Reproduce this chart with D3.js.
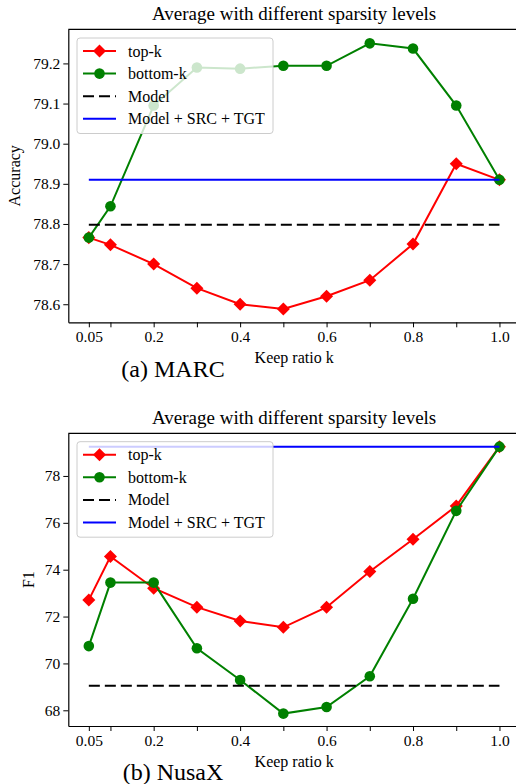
<!DOCTYPE html>
<html><head><meta charset="utf-8">
<script src="https://cdn.jsdelivr.net/npm/d3@7"></script>
<style>
body{margin:0;background:#fff;}
svg text{font-family:"Liberation Serif","Times New Roman",serif;fill:#000;}
</style></head>
<body><svg id="c" width="516" height="784"></svg>
<script>
const keepRatios = [0.05,0.1,0.2,0.3,0.4,0.5,0.6,0.7,0.8,0.9,1.0];
const xTickValues = [0.05,0.1,0.2,0.3,0.4,0.5,0.6,0.7,0.8,0.9,1.0];
const xTickLabels = ["0.05","","0.2","","0.4","","0.6","","0.8","","1.0"];

const marcTopK    = [78.766,78.748,78.700,78.640,78.600,78.588,78.620,78.660,78.750,78.950,78.910];
const marcBottomK = [78.766,78.844,79.095,79.190,79.187,79.194,79.194,79.250,79.237,79.095,78.910];
const marcModel = 78.798;
const marcFull  = 78.910;
const marcYTicks = [78.6,78.7,78.8,78.9,79.0,79.1,79.2];

const nusaTopK    = [72.71,74.56,73.21,72.40,71.81,71.54,72.40,73.92,75.30,76.72,79.25];
const nusaBottomK = [70.74,73.45,73.45,70.65,69.29,67.86,68.14,69.45,72.76,76.51,79.25];
const nusaModel = 69.05;
const nusaFull  = 79.25;
const nusaYTicks = [68,70,72,74,76,78];

const svg = d3.select("#c");
const xLeft = 68.3, xRight = 520;

function panel(o){
  const g = svg.append("g");
  const x = d3.scaleLinear().domain([0.0025,1.0475]).range([xLeft,xRight]);
  const y = d3.scaleLinear().domain(o.ydom).range([o.bottom,o.top]);

  // title
  g.append("text").attr("x",(xLeft+xRight)/2).attr("y",o.top-9)
    .attr("text-anchor","middle").attr("font-size","19px").text("Average with different sparsity levels");

  // axes
  const xa = g.append("g").attr("transform",`translate(0,${o.bottom})`)
    .call(d3.axisBottom(x).tickValues(xTickValues).tickFormat((d,i)=>xTickLabels[i]).tickSize(5).tickPadding(4).tickSizeOuter(0));
  const ya = g.append("g").attr("transform",`translate(${xLeft},0)`)
    .call(d3.axisLeft(y).tickValues(o.yticks).tickFormat(o.fmt).tickSize(5).tickPadding(3).tickSizeOuter(0));
  [xa,ya].forEach(a=>{
    a.selectAll("text").attr("font-size","15.5px").style("font-family","'Liberation Serif',serif").attr("fill","#000");
    a.selectAll("line").attr("stroke","#000").attr("stroke-width",1);
    a.select(".domain").attr("stroke","#000").attr("stroke-width",1.2);
  });
  // top spine
  g.append("line").attr("x1",xLeft).attr("x2",xRight).attr("y1",o.top).attr("y2",o.top)
    .attr("stroke","#000").attr("stroke-width",1.2);

  // labels
  g.append("text").attr("x",(xLeft+xRight)/2).attr("y",o.bottom+41)
    .attr("text-anchor","middle").attr("font-size","16px").text("Keep ratio k");
  g.append("text").attr("transform",`translate(${o.ylabX},${(o.top+o.bottom)/2}) rotate(-90)`)
    .attr("text-anchor","middle").attr("font-size","16px").text(o.ylabel);
  g.append("text").attr("x",173).attr("y",o.capY)
    .attr("text-anchor","middle").attr("font-size","24px").text(o.caption);

  const line = d3.line().x((d,i)=>x(keepRatios[i])).y(d=>y(d));
  // top-k
  g.append("path").datum(o.topk).attr("d",line).attr("fill","none").attr("stroke","#ff0000").attr("stroke-width",2);
  g.selectAll(".dia").data(o.topk).enter().append("path")
    .attr("d",d3.symbol().type(d3.symbolSquare).size(85))
    .attr("transform",(d,i)=>`translate(${x(keepRatios[i])},${y(d)}) rotate(45)`)
    .attr("fill","#ff0000");
  // bottom-k
  g.append("path").datum(o.botk).attr("d",line).attr("fill","none").attr("stroke","#008000").attr("stroke-width",2);
  g.selectAll(".cir").data(o.botk).enter().append("circle")
    .attr("cx",(d,i)=>x(keepRatios[i])).attr("cy",d=>y(d)).attr("r",5.3).attr("fill","#008000");
  // model
  g.append("line").attr("x1",x(0.05)).attr("x2",x(1.0)).attr("y1",y(o.model)).attr("y2",y(o.model))
    .attr("stroke","#000").attr("stroke-width",2).attr("stroke-dasharray","11,5");
  g.append("line").attr("x1",x(0.05)).attr("x2",x(1.0)).attr("y1",y(o.full)).attr("y2",y(o.full))
    .attr("stroke","#0000ff").attr("stroke-width",2);

  // legend
  const lg = g.append("g").attr("transform",`translate(77,${o.legTop})`);
  lg.append("rect").attr("x",0).attr("y",0).attr("width",196).attr("height",95.5).attr("rx",3)
    .attr("fill","#fff").attr("fill-opacity",0.8).attr("stroke","#cccccc").attr("stroke-width",1);
  const rows = [
    {t:"top-k",c:"#ff0000",m:"D"},
    {t:"bottom-k",c:"#008000",m:"o"},
    {t:"Model",c:"#000",m:"dash"},
    {t:"Model + SRC + TGT",c:"#0000ff",m:""}
  ];
  rows.forEach((r,i)=>{
    const yy = 13 + i*22.6;
    const l = lg.append("line").attr("x1",6).attr("x2",39).attr("y1",yy).attr("y2",yy)
      .attr("stroke",r.c).attr("stroke-width",2);
    if(r.m==="dash") l.attr("stroke-dasharray","11,5");
    if(r.m==="D") lg.append("path").attr("d",d3.symbol().type(d3.symbolSquare).size(85))
      .attr("transform",`translate(22.5,${yy}) rotate(45)`).attr("fill",r.c);
    if(r.m==="o") lg.append("circle").attr("cx",22.5).attr("cy",yy).attr("r",5.3).attr("fill",r.c);
    lg.append("text").attr("x",51).attr("y",yy+5.5).attr("font-size","16px").text(r.t);
  });
}

panel({top:29.3,bottom:322.3,ydom:[78.555,79.285],yticks:marcYTicks,fmt:d3.format(".1f"),
  topk:marcTopK,botk:marcBottomK,model:marcModel,full:marcFull,
  ylabel:"Accuracy",ylabX:20,caption:"(a) MARC",capY:377,legTop:38});
panel({top:433.3,bottom:726,ydom:[67.33,79.82],yticks:nusaYTicks,fmt:d3.format("d"),
  topk:nusaTopK,botk:nusaBottomK,model:nusaModel,full:nusaFull,
  ylabel:"F1",ylabX:34,caption:"(b) NusaX",capY:780,legTop:441.7});
</script></body></html>
